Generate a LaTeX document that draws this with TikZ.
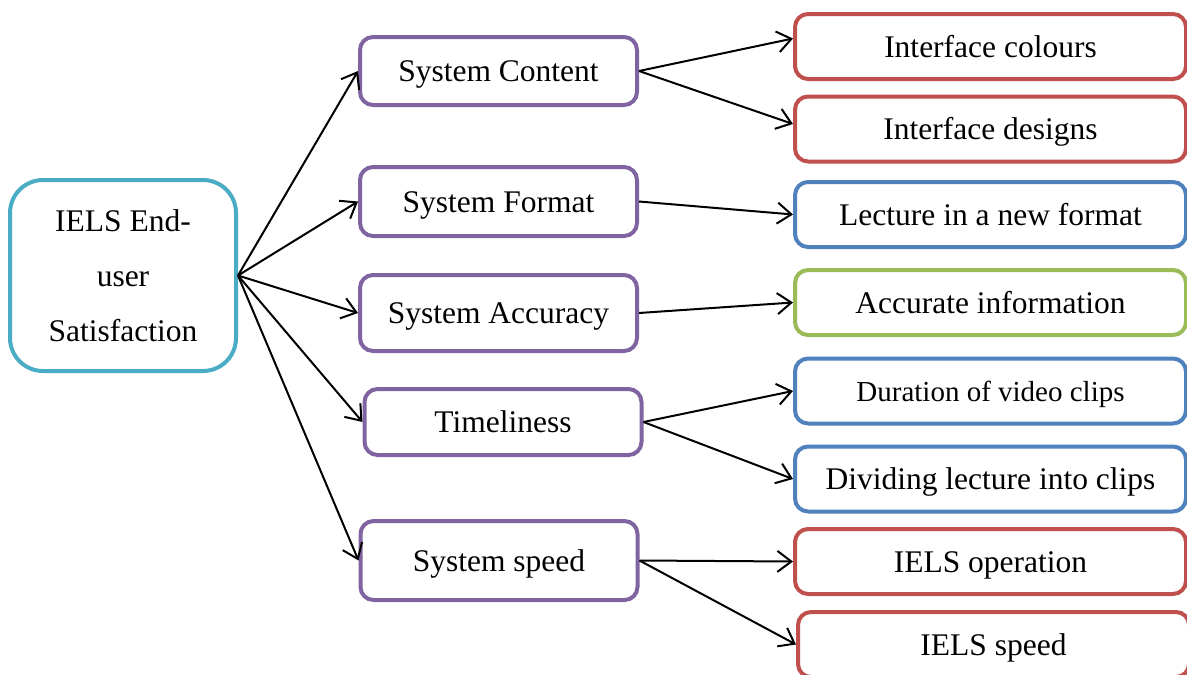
\documentclass[tikz,border=0pt]{standalone}
\usepackage{fontspec}
\setmainfont{Liberation Serif}
\usepackage{xcolor}
\usetikzlibrary{arrows.meta}
\definecolor{rootcol}{RGB}{75,172,198}
\definecolor{midcol}{RGB}{128,100,162}
\definecolor{redcol}{RGB}{192,80,77}
\definecolor{bluecol}{RGB}{79,129,189}
\definecolor{greencol}{RGB}{155,187,89}
\tikzset{
	box/.style={
			draw, line width=4pt, fill=white, inner sep=0pt, align=center,
			font=\fontsize{31.5}{55}\selectfont
		},
	rootbox/.style={box, draw=rootcol, rounded corners=33pt, minimum width=226pt, minimum height=191pt},
	flatbox/.style={box, rounded corners=13pt, text height=21pt, text depth=0pt},
	midbox/.style={flatbox, draw=midcol, minimum width=277pt, minimum height=#1},
	leafbox/.style={flatbox, minimum width=391pt, minimum height=65pt},
	link/.style={line width=2pt, -{Straight Barb[length=14pt,width=21pt,line width=2pt]}}
}

\begin{document}
\begin{tikzpicture}[x=1pt,y=-1pt]
		\useasboundingbox (0,0) rectangle (1187,675);
		\node [rootbox] (iels) at (123,275.5) {IELS End-\\user\\Satisfaction};
		% second level
		\node [midbox=68pt] (content) at (498.5,71) {System Content};
		\node [midbox=69pt] (format) at (498.5,201.5) {System Format};
		\node [midbox=76pt] (accuracy) at (498.5,313) {System Accuracy};
		\node [midbox=66pt] (timeliness) at (503,422) {Timeliness};
		\node [midbox=79pt] (speed) at (499,560.5) {System speed};
		% third level
		\node [leafbox, draw=redcol] (colours) at (990.5,46.5) {Interface colours};
		\node [leafbox, draw=redcol] (designs) at (990.5,129) {Interface designs};
		\node [leafbox, draw=bluecol] (lecture) at (990.5,214.5) {Lecture in a new format};
		\node [leafbox, draw=greencol] (accurate) at (990.5,302.5) {Accurate information};
		\node [leafbox, draw=bluecol, font=\fontsize{29}{35}\selectfont] (duration) at (990.5,391) {Duration of video clips};
		\node [leafbox, draw=bluecol] (dividing) at (990.5,479) {Dividing lecture into clips};
		\node [leafbox, draw=redcol] (operation) at (990.5,561.5) {IELS operation};
		\node [leafbox, draw=redcol] (ielsspeed) at (993.5,644.5) {IELS speed};

		\foreach \m in {content,format,accuracy,timeliness,speed}
			\draw [link] (iels.east) -- (\m.west);

		\draw [link] (content.east) -- ([yshift=8pt]colours.west);
		\draw [link] (content.east) -- ([yshift=5pt]designs.west);
		\draw [link] (format.east) -- (lecture.west);
		\draw [link] (accuracy.east) -- (accurate.west);
		\draw [link] (timeliness.east) -- (duration.west);
		\draw [link] (timeliness.east) -- (dividing.west);
		\draw [link] (speed.east) -- (operation.west);
		\draw [link] (speed.east) -- (ielsspeed.west);
	\end{tikzpicture}
\end{document}
